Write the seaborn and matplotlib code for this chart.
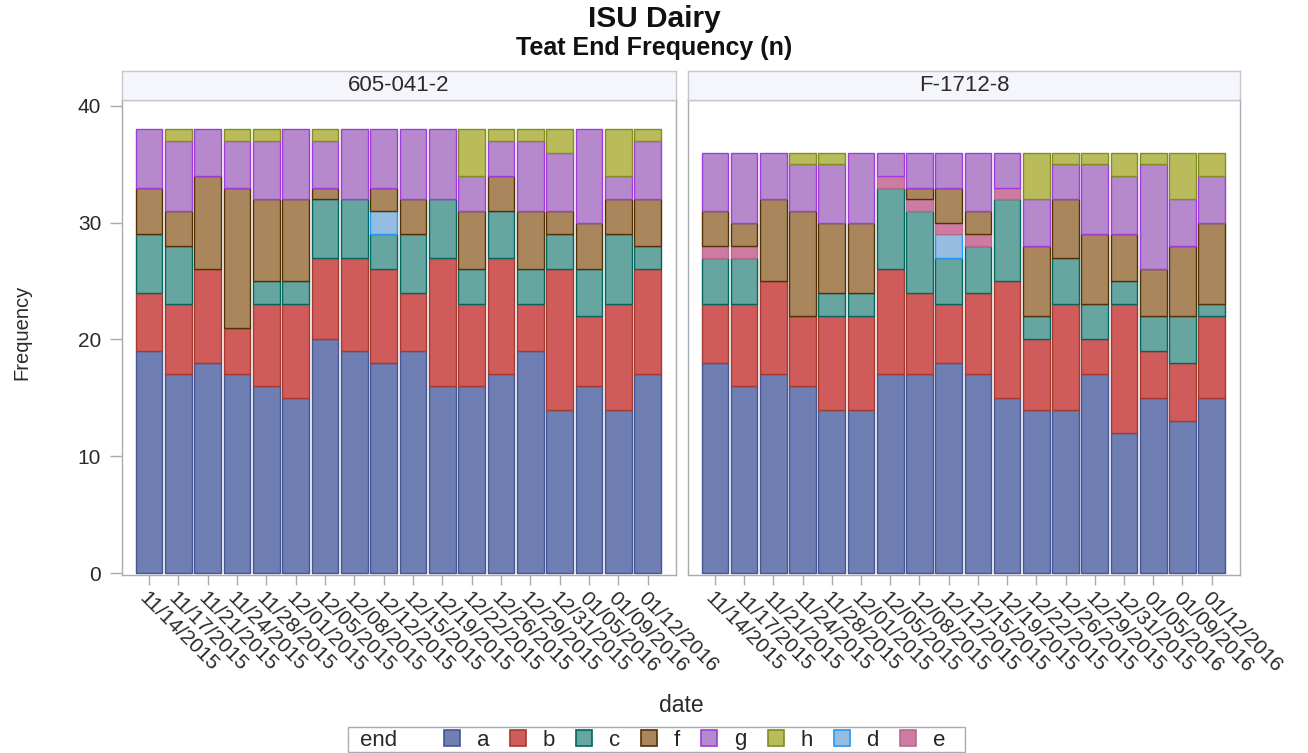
import matplotlib
matplotlib.use("Agg")
import matplotlib.pyplot as plt
import matplotlib.patches as mpatches
import matplotlib.transforms as mtrans
from matplotlib.colors import to_rgba
import seaborn as sns
import pandas as pd

# Datos
dates = ["11/14/2015", "11/17/2015", "11/21/2015", "11/24/2015", "11/28/2015",
         "12/01/2015", "12/05/2015", "12/08/2015", "12/12/2015", "12/15/2015",
         "12/19/2015", "12/22/2015", "12/26/2015", "12/29/2015", "12/31/2015",
         "01/05/2016", "01/09/2016", "01/12/2016"]
cows = ["605-041-2", "F-1712-8"]
ends = ["a", "b", "c", "d", "e", "f", "g", "h"]          # stacking order (bottom -> top)
legend_order = ["a", "b", "c", "f", "g", "h", "d", "e"]

cow1_a = [19, 17, 18, 17, 16, 15, 20, 19, 18, 19, 16, 16, 17, 19, 14, 16, 14, 17]
cow1_b = [5, 6, 8, 4, 7, 8, 7, 8, 8, 5, 11, 7, 10, 4, 12, 6, 9, 9]
cow1_c = [5, 5, 0, 0, 2, 2, 5, 5, 3, 5, 5, 3, 4, 3, 3, 4, 6, 2]
cow1_d = [0, 0, 0, 0, 0, 0, 0, 0, 2, 0, 0, 0, 0, 0, 0, 0, 0, 0]
cow1_e = [0, 0, 0, 0, 0, 0, 0, 0, 0, 0, 0, 0, 0, 0, 0, 0, 0, 0]
cow1_f = [4, 3, 8, 12, 7, 7, 1, 0, 2, 3, 0, 5, 3, 5, 2, 4, 3, 4]
cow1_g = [5, 6, 4, 4, 5, 6, 4, 6, 5, 6, 6, 3, 3, 6, 5, 8, 2, 5]
cow1_h = [0, 1, 0, 1, 1, 0, 1, 0, 0, 0, 0, 4, 1, 1, 2, 0, 4, 1]

cow2_a = [18, 16, 17, 16, 14, 14, 17, 17, 18, 17, 15, 14, 14, 17, 12, 15, 13, 15]
cow2_b = [5, 7, 8, 6, 8, 8, 9, 7, 5, 7, 10, 6, 9, 3, 11, 4, 5, 7]
cow2_c = [4, 4, 0, 0, 2, 2, 7, 7, 4, 4, 7, 2, 4, 3, 2, 3, 4, 1]
cow2_d = [0, 0, 0, 0, 0, 0, 0, 0, 2, 0, 0, 0, 0, 0, 0, 0, 0, 0]
cow2_e = [1, 1, 0, 0, 0, 0, 1, 1, 1, 1, 1, 0, 0, 0, 0, 0, 0, 0]
cow2_f = [3, 2, 7, 9, 6, 6, 0, 1, 3, 2, 0, 6, 5, 6, 4, 4, 6, 7]
cow2_g = [5, 6, 4, 4, 5, 6, 2, 3, 3, 5, 3, 4, 3, 6, 5, 9, 4, 4]
cow2_h = [0, 0, 0, 1, 1, 0, 0, 0, 0, 0, 0, 4, 1, 1, 2, 1, 4, 2]

fill = {"a": "#6F7EB3", "b": "#D05B5B", "c": "#66A5A0", "d": "#94BDE1",
        "e": "#CD7BA1", "f": "#A9865B", "g": "#B689CD", "h": "#BABC5C"}
line = {"a": "#445694", "b": "#A23A2E", "c": "#01665E", "d": "#2597FA",
        "e": "#B8678D", "f": "#543005", "g": "#9D3CDB", "h": "#7F8E1F"}

series = {
    cows[0]: [cow1_a, cow1_b, cow1_c, cow1_d, cow1_e, cow1_f, cow1_g, cow1_h],
    cows[1]: [cow2_a, cow2_b, cow2_c, cow2_d, cow2_e, cow2_f, cow2_g, cow2_h],
}
rows = []
for cow, vals in series.items():
    for end, v in zip(ends, vals):
        for i, n in enumerate(v):
            rows.append((cow, i, end, n))
df = pd.DataFrame(rows, columns=["cow", "idx", "end", "n"])

# Configuración
sns.set_theme(style="white")
plt.rcParams["font.family"] = ["Liberation Sans", "DejaVu Sans"]

W, H = 1308, 753
def box(l, t, r, b):
    return [l / W, 1 - b / H, (r - l) / W, (b - t) / H]

fig = plt.figure(figsize=(W / 100, H / 100), dpi=100)
edge_lookup = {tuple(round(c, 3) for c in to_rgba(fill[k])): line[k] for k in ends}
frame_col = "#A8ACB0"
txt_col = "#2A2A2A"
shift = mtrans.ScaledTranslation(-6 / 100, 0, fig.dpi_scale_trans)

panels = [(122, 676), (688, 1240)]
for k, cow in enumerate(cows):
    l, r = panels[k]
    ax = fig.add_axes(box(l, 100, r, 575))
    sub = df[df["cow"] == cow]
    sns.histplot(data=sub, x="idx", weights="n", hue="end", hue_order=ends[::-1],
                 multiple="stack", discrete=True, shrink=0.91, palette=fill,
                 alpha=1, linewidth=1.0, legend=False, ax=ax)
    for p in ax.patches:
        if p.get_height() <= 0:
            p.set_visible(False)
            continue
        key = tuple(round(c, 3) for c in p.get_facecolor())
        p.set_edgecolor(edge_lookup.get(key, "#555555"))
        p.set_linewidth(1.0)

    ax.set_xlim(-0.92, 17.97)
    ax.set_ylim(-0.17, 40.5)
    ax.set_xlabel("")
    ax.set_ylabel("")
    ax.set_xticks(range(len(dates)))
    ax.set_xticklabels(dates, rotation=-45, ha="left", va="top",
                       rotation_mode="anchor", fontsize=15, color=txt_col)
    for lab in ax.get_xticklabels():
        lab.set_transform(lab.get_transform() + shift)
    ax.tick_params(axis="x", length=7.5, width=1, color=frame_col, pad=2, bottom=True)
    ax.set_yticks([0, 10, 20, 30, 40])
    if k == 0:
        ax.tick_params(axis="y", length=9, width=1, color=frame_col, pad=6,
                       labelsize=15, labelcolor=txt_col, left=True)
    else:
        ax.tick_params(axis="y", left=False, labelleft=False)
    for s in ax.spines.values():
        s.set_color(frame_col)
        s.set_linewidth(1)

    hax = fig.add_axes(box(l, 71, r, 100))
    hax.set_facecolor("#F4F6FC")
    hax.set_xticks([])
    hax.set_yticks([])
    for s in hax.spines.values():
        s.set_color("#C4C8CC")
        s.set_linewidth(1)
    hax.text(0.5, 0.5, cow, ha="center", va="center", fontsize=16, color=txt_col)

# Títulos y etiquetas
fig.text(654 / W, 1 - 19 / H, "ISU Dairy", ha="center", va="center",
         fontsize=21.5, fontweight="bold", color="#111111")
fig.text(654 / W, 1 - 48 / H, "Teat End Frequency (n)", ha="center", va="center",
         fontsize=18, fontweight="bold", color="#111111")
fig.text(22 / W, 1 - 332 / H, "Frequency", rotation=90, ha="center", va="center",
         fontsize=14.5, color=txt_col)
fig.text(681 / W, 1 - 705 / H, "date", ha="center", va="center",
         fontsize=16.5, color=txt_col)

# Leyenda
fig.patches.append(mpatches.Rectangle((348 / W, 1 - 752 / H), 617 / W, 25 / H,
                                      transform=fig.transFigure, fill=False,
                                      edgecolor=frame_col, linewidth=1))
fig.text(360 / W, 1 - 740 / H, "end", ha="left", va="center", fontsize=16,
         color=txt_col)
handles = [mpatches.Patch(facecolor=fill[e], edgecolor=line[e], linewidth=1.2, label=e)
           for e in legend_order]
fig.legend(handles=handles, loc="center left", bbox_to_anchor=(444 / W, 1 - 740 / H),
           ncol=8, frameon=False, fontsize=16, handlelength=0.72, handleheight=0.72,
           handletextpad=0.75, columnspacing=0.95, borderaxespad=0, borderpad=0)

fig.savefig("out.png", dpi=100)
